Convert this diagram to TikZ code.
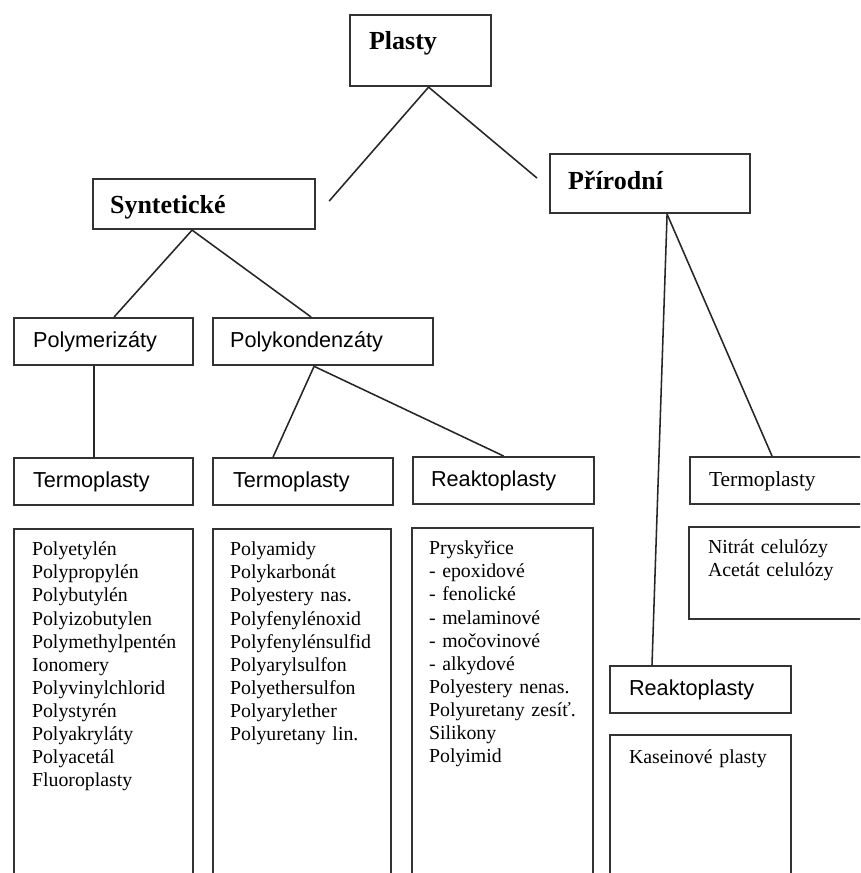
\documentclass[tikz,border=0pt]{standalone}
\usepackage{fontspec}
\setmainfont{Liberation Serif}
\setsansfont{Liberation Sans}
\usetikzlibrary{calc}
\hyphenpenalty=10000
\hbadness=10000
\hfuzz=20pt

\begin{document}
\begin{tikzpicture}[
  x=0.025cm, y=-0.025cm,
  box/.style={draw=black!80,line width=1.5pt,anchor=north west,align=left,inner ysep=0pt},
  cat/.style={box,font=\fontsize{18.5}{22}\selectfont\bfseries,text height=0.47cm,text depth=0.163cm},
  grp/.style={box,font=\fontsize{15.4}{18}\selectfont\sffamily,text height=0.42cm,text depth=0.135cm,minimum height=1.18cm},
  sgrp/.style={box,font=\fontsize{15.2}{18}\selectfont,text height=0.42cm,text depth=0.135cm,minimum height=1.18cm},
  lst/.style={box,font=\fontsize{14.1}{16.4}\selectfont,text height=0.67cm,text depth=10cm},
  link/.style={draw=black!85,line width=1.1pt}]
  \fill[white] (0,0) rectangle (860,873);
  \useasboundingbox (0,0) rectangle (860,873);
  \clip (0,0) rectangle (860,873);

  % top levels
  \node[cat,minimum width=3.525cm,minimum height=1.775cm,inner xsep=0.475cm,text width=2.575cm,text depth=0.5cm]
    (plasty) at (349,14) {Plasty};
  \node[cat,minimum width=5.55cm,minimum height=1.25cm,inner xsep=0.425cm,text width=4.7cm,text height=0.62cm]
    (synt) at (92,178) {Syntetické};
  \node[cat,minimum width=5cm,minimum height=1.475cm,inner xsep=0.45cm,text width=4.1cm]
    (prir) at (549,153) {Přírodní};

  % synthetic groups
  \node[grp,inner xsep=0.475cm,text width=3.525cm] (polym) at (13,317) {Polymerizáty};
  \node[grp,inner xsep=0.425cm,text width=4.65cm]  (polyk) at (212,317) {Polykondenzáty};
  \node[grp,inner xsep=0.475cm,text width=3.525cm] (termoA) at (13,457) {Termoplasty};
  \node[grp,inner xsep=0.5cm,text width=3.5cm]     (termoB) at (212,457) {Termoplasty};
  \node[grp,inner xsep=0.45cm,text width=3.625cm]  (reaktoA) at (412,456) {Reaktoplasty};

  % natural groups
  \node[sgrp,inner xsep=0.475cm,text width=3.8cm]  (termoC) at (689,456) {Termoplasty};
  \node[grp,inner xsep=0.475cm,text width=3.575cm] (reaktoB) at (609,665) {Reaktoplasty};

  % lists
  \node[lst,inner xsep=0.45cm,text width=3.575cm] (listA) at (13,528)
    {Polyetylén\\Polypropylén\\Polybutylén\\Polyizobutylen\\Polymethylpentén\\Ionomery\\Polyvinylchlorid\\Polystyrén\\Polyakryláty\\Polyacetál\\Fluoroplasty};
  \node[lst,inner xsep=0.425cm,text width=3.6cm] (listB) at (212,528)
    {Polyamidy\\Polykarbonát\\Polyestery nas.\\Polyfenylénoxid\\Polyfenylénsulfid\\Polyarylsulfon\\Polyethersulfon\\Polyarylether\\Polyuretany lin.};
  \node[lst,inner xsep=0.425cm,text width=3.675cm] (listC) at (411,527)
    {Pryskyřice\\- epoxidové\\- fenolické\\- melaminové\\- močovinové\\- alkydové\\Polyestery nenas.\\Polyuretany zesíť.\\Silikony\\Polyimid};
  \node[lst,inner xsep=0.475cm,text width=3.8cm,text depth=1.63cm] (nitr) at (688,526)
    {Nitrát celulózy\\Acetát celulózy};
  \node[lst,inner xsep=0.475cm,text width=3.575cm,text height=0.7cm] (kasein) at (609,734)
    {Kaseinové plasty};

  % connector ends
  \coordinate (pj)  at ($(plasty.south)+(8,0)$);
  \coordinate (sE)  at ($(synt.east)+(13,-3)$);
  \coordinate (pE)  at ($(prir.west)+(-12,-5.5)$);
  \coordinate (sj)  at ($(synt.south)+(-12,0)$);
  \coordinate (mE)  at ($(polym.north)+(10.5,0)$);
  \coordinate (kE)  at ($(polyk.north)+(-12,0)$);
  \coordinate (mj)  at ($(polym.south)+(-9.5,0)$);
  \coordinate (tAE) at ($(termoA.north)+(-9.5,0)$);
  \coordinate (kj)  at ($(polyk.south)+(-9,0)$);
  \coordinate (tBE) at ($(termoB.north)+(-30,0)$);
  \coordinate (rj)  at ($(prir.south)+(17,0)$);
  \coordinate (rBE) at ($(reaktoB.north west)+(43,0)$);
  \coordinate (tCE) at ($(termoC.north west)+(83,0)$);

  \foreach \a/\b in {pj/sE,pj/pE,sj/mE,sj/kE,mj/tAE,kj/tBE,kj/reaktoA.north,rj/rBE,rj/tCE}
    \draw[link] (\a)--(\b);
\end{tikzpicture}
\end{document}
